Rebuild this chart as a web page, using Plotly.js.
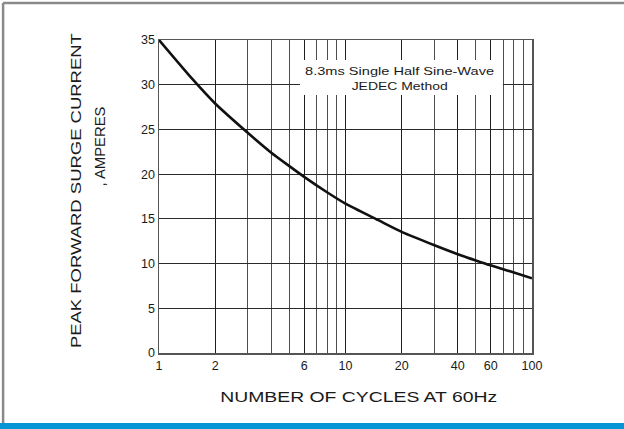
<!DOCTYPE html>
<html>
<head>
<meta charset="utf-8">
<script src="https://cdn.plot.ly/plotly-3.0.1.min.js"></script>
<style>
  html, body { margin: 0; padding: 0; background: #ffffff; }
  #chart { width: 624px; height: 429px; }
</style>
</head>
<body>
<div id="chart"></div>
<script>
// ---- data ----
const cycles  = [1, 1.5, 2, 3, 4, 5, 6, 8, 10, 15, 20, 30, 40, 50, 60, 80, 100];
const current = [35, 30.7, 27.9, 24.6, 22.4, 20.9, 19.7, 17.95, 16.7, 14.85, 13.55, 12.05, 11.05, 10.35, 9.8, 9.0, 8.35];

const xTickVals  = [1, 2, 6, 10, 20, 40, 60, 100];
const xTickText  = ["1", "2", "6", "10", "20", "40", "60", "100"];
const xMinorVals = [3, 4, 5, 7, 8, 9, 30, 50, 70, 80, 90];
const yTickVals  = [0, 5, 10, 15, 20, 25, 30, 35];
const yTickText  = ["0", "5", "10", "15", "20", "25", "30", "35"];

const noteLines   = ["8.3ms Single Half Sine-Wave", "JEDEC Method"];
const yTitleLines = ["PEAK FORWARD SURGE CURRENT", ", AMPERES"];
const xTitleText  = "NUMBER OF CYCLES AT 60Hz";

const FONT = "Liberation Sans, Arial, Helvetica, sans-serif";
const TXT = "#1a1a1a";

const trace = {
  x: cycles, y: current, type: "scatter", mode: "lines",
  line: { color: "#111111", width: 2.6, shape: "spline", smoothing: 0.6 },
  hoverinfo: "skip"
};

const layout = {
  width: 624, height: 429,
  margin: { l: 159, r: 92, t: 40, b: 76, pad: 0 },
  paper_bgcolor: "#ffffff", plot_bgcolor: "#ffffff",
  showlegend: false,
  font: { family: FONT, color: TXT, size: 12 },
  xaxis: {
    type: "log", range: [0, 2], fixedrange: true,
    tickmode: "array", tickvals: xTickVals, ticktext: xTickText,
    ticks: "", tickfont: { family: FONT, size: 12.5, color: TXT },
    showgrid: true, gridcolor: "#1e1e1e", gridwidth: 1,
    minor: { tickmode: "array", tickvals: xMinorVals, showgrid: true, gridcolor: "#4e4e4e", gridwidth: 1, ticks: "" },
    showline: true, linecolor: "#555555", linewidth: 1.5, mirror: true,
    zeroline: false
  },
  yaxis: {
    range: [0, 35], fixedrange: true,
    tickmode: "array", tickvals: yTickVals, ticktext: yTickText,
    ticks: "", tickfont: { family: FONT, size: 12.5, color: TXT },
    showgrid: true, gridcolor: "#2a2a2a", gridwidth: 1,
    showline: true, linecolor: "#555555", linewidth: 1.5, mirror: true,
    zeroline: false
  },
  shapes: [
    // white box behind the note
    { type: "rect", xref: "paper", yref: "paper", x0: 0.378, x1: 0.922, y0: 0.824, y1: 0.936,
      fillcolor: "#ffffff", line: { width: 0 }, layer: "above" },
    // frame: top and left gray lines
    { type: "line", xref: "paper", yref: "paper", x0: -0.418, x1: 1.26, y0: 1.118, y1: 1.118,
      line: { color: "#8a8a8a", width: 2.5 } },
    { type: "line", xref: "paper", yref: "paper", x0: -0.418, x1: -0.418, y0: 1.118, y1: -0.224,
      line: { color: "#8a8a8a", width: 2.5 } },
    // blue bar at bottom
    { type: "rect", xref: "paper", yref: "paper", x0: -0.43, x1: 1.26, y0: -0.2236, y1: -0.26,
      fillcolor: "#0895d6", line: { width: 0 } }
  ],
  annotations: [
    { text: noteLines[0], xref: "paper", yref: "paper", x: 0.645, y: 0.902, xanchor: "center", yanchor: "middle",
      showarrow: false, font: { family: FONT, size: 11.5, color: TXT } },
    { text: noteLines[1], xref: "paper", yref: "paper", x: 0.644, y: 0.854, xanchor: "center", yanchor: "middle",
      showarrow: false, font: { family: FONT, size: 11.5, color: TXT } },
    { text: yTitleLines[0], xref: "paper", yref: "paper", x: -0.2233, y: 0.519, xanchor: "center", yanchor: "middle",
      textangle: -90, showarrow: false, font: { family: FONT, size: 14.5, color: TXT } },
    { text: yTitleLines[1], xref: "paper", yref: "paper", x: -0.1568, y: 0.658, xanchor: "center", yanchor: "middle",
      textangle: -90, showarrow: false, font: { family: FONT, size: 14.5, color: TXT } },
    { text: xTitleText, xref: "paper", yref: "paper", x: 0.536, y: -0.1406, xanchor: "center", yanchor: "middle",
      showarrow: false, font: { family: FONT, size: 14.5, color: TXT } }
  ]
};

// horizontal stretch of the reference lettering (target widths in px)
const stretchTargets = [189, 96, 315, 80, 277];

function stretchText() {
  const texts = document.querySelectorAll("#chart .annotation-text");
  texts.forEach(function (t, i) {
    const target = stretchTargets[i];
    if (!target) return;
    try {
      t.setAttribute("textLength", target);
      t.setAttribute("lengthAdjust", "spacingAndGlyphs");
    } catch (e) {}
  });
}

Plotly.newPlot("chart", [trace], layout, { staticPlot: true, displayModeBar: false })
  .then(stretchText);
</script>
</body>
</html>
